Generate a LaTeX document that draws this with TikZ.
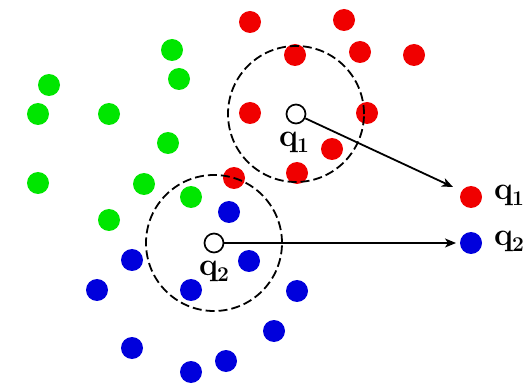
\documentclass[tikz,border=0pt]{standalone}
\usetikzlibrary{arrows.meta}
\definecolor{dred}{RGB}{240,0,0}
\definecolor{dgreen}{RGB}{0,230,0}
\definecolor{dblue}{RGB}{0,0,220}
\newcommand{\qlab}[1]{\fontsize{32}{32}\selectfont\bfseries q\kern-1pt\raisebox{-6pt}{\fontsize{21}{21}\selectfont #1}}
\begin{document}
\begin{tikzpicture}[x=1pt,y=-1pt,
  dot/.style={circle,inner sep=0pt,minimum size=22pt},
  rdot/.style={dot,fill=dred},
  gdot/.style={dot,fill=dgreen},
  bdot/.style={dot,fill=dblue},
  query/.style={circle,draw=black,line width=1.7pt,fill=white,inner sep=0pt,minimum size=19pt},
  rangecirc/.style={circle,draw=black,line width=1.8pt,dash pattern=on 9pt off 4pt,inner sep=0pt,minimum size=136pt},
  lab/.style={inner sep=0pt},
  conn/.style={line width=1.8pt,-{Stealth[length=11pt,width=9pt,inset=3pt]}}]
\useasboundingbox (0,0) rectangle (525,390);
% green
\foreach \p [count=\i] in {(172,50),(179,79),(49,85),(38,114),(109,114),(168,143),(38,183),(144,184),(191,197),(109,220)}
  \node[gdot] (g\i) at \p {};
% red
\foreach \p [count=\i] in {(250,22),(344,20),(295,55),(360,52),(414,55),(250,113),(367,113),(332,149),(297,173),(234,178)}
  \node[rdot] (r\i) at \p {};
% blue
\foreach \p [count=\i] in {(229,212),(132,260),(249,261),(97,290),(191,290),(297,291),(274,331),(132,348),(226,361),(191,372)}
  \node[bdot] (b\i) at \p {};
% range circles
\node[rangecirc] (c1) at (296,114) {};
\node[rangecirc] (c2) at (214,243) {};
% queries
\node[query] (q1) at (296,114) {};
\node[query] (q2) at (214,243) {};
\node[lab] (l1) at (294,142) {\qlab{1}};
\node[lab] (l2) at (214,271) {\qlab{2}};
% results
\node[rdot] (o1) at (471,197) {};
\node[bdot] (o2) at (471,243) {};
\node[lab,anchor=west] (m1) at (494,195) {\qlab{1}};
\node[lab,anchor=west] (m2) at (494,241) {\qlab{2}};
\coordinate (e1) at (453,187);
\coordinate (e2) at (456,243);
\draw[conn] (q1) -- (e1);
\draw[conn] (q2) -- (e2);
\end{tikzpicture}
\end{document}
